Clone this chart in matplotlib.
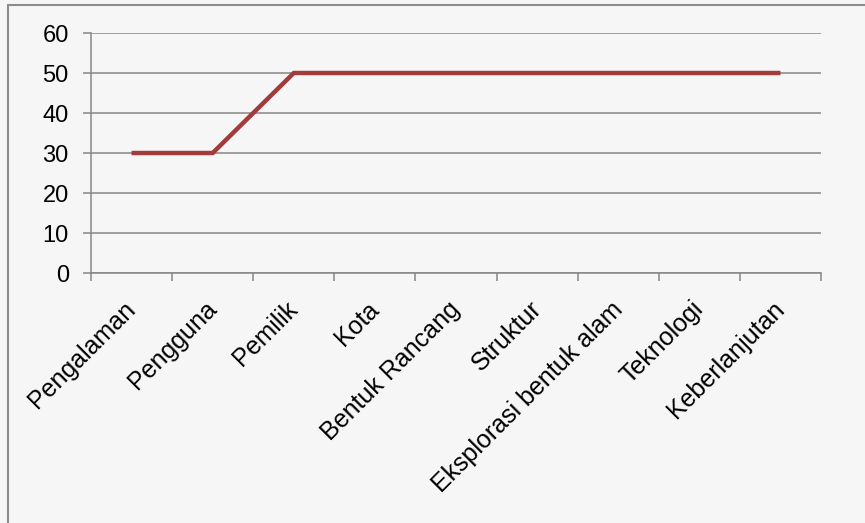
import matplotlib
matplotlib.use('Agg')
import matplotlib.pyplot as plt
import matplotlib.transforms as mtransforms
from matplotlib.patches import Rectangle

plt.rcParams['font.family'] = ['Liberation Sans', 'DejaVu Sans']

categories = ['Pengalaman', 'Pengguna', 'Pemilik', 'Kota', 'Bentuk Rancang',
              'Struktur', 'Eksplorasi bentuk alam', 'Teknologi', 'Keberlanjutan']
values = [30, 30, 50, 50, 50, 50, 50, 50, 50]
y_ticks = [0, 10, 20, 30, 40, 50, 60]

line_color = '#A33B3B'
grid_color = '#868686'

fig = plt.figure(figsize=(8.65, 5.23), dpi=100, facecolor='#f6f6f6')
ax = fig.add_axes([91 / 865, 1 - 273 / 523, 730 / 865, 240 / 523])
ax.set_facecolor('none')

x = [i + 0.5 for i in range(len(categories))]
ax.plot(x, values, color=line_color, lw=3.2, solid_capstyle='butt',
        solid_joinstyle='miter', zorder=3)

ax.set_xlim(0, len(categories))
ax.set_ylim(0, 60)
ax.set_yticks(y_ticks)
ax.yaxis.grid(True, color=grid_color, lw=1.1)
ax.set_axisbelow(True)

# tick marks sit on the category boundaries
ax.set_xticks(range(len(categories) + 1))
ax.set_xticklabels([])
ax.tick_params(axis='x', length=6, color=grid_color, width=1.1)
ax.tick_params(axis='y', length=6, color=grid_color, width=1.1,
               labelsize=17, pad=10)

# slanted category names, hung under the centre of each category
offset = mtransforms.ScaledTranslation(-0.08, -0.24, fig.dpi_scale_trans)
for xi, name in zip(x, categories):
    ax.text(xi, 0, name, transform=ax.get_xaxis_transform() + offset,
            rotation=45, ha='right', va='top', rotation_mode='anchor',
            fontsize=18)

for side in ['top', 'right']:
    ax.spines[side].set_visible(False)
for side in ['left', 'bottom']:
    ax.spines[side].set_color(grid_color)
    ax.spines[side].set_linewidth(1.1)

# chart frame, running off the right and bottom edges
fig.patches.append(Rectangle((8 / 865, -0.1), 1.0, 1 - 5 / 523 + 0.1,
                             transform=fig.transFigure, fill=False,
                             edgecolor='#8c8c8c', lw=1.5))

fig.savefig('out.png', dpi=100, facecolor=fig.get_facecolor())
